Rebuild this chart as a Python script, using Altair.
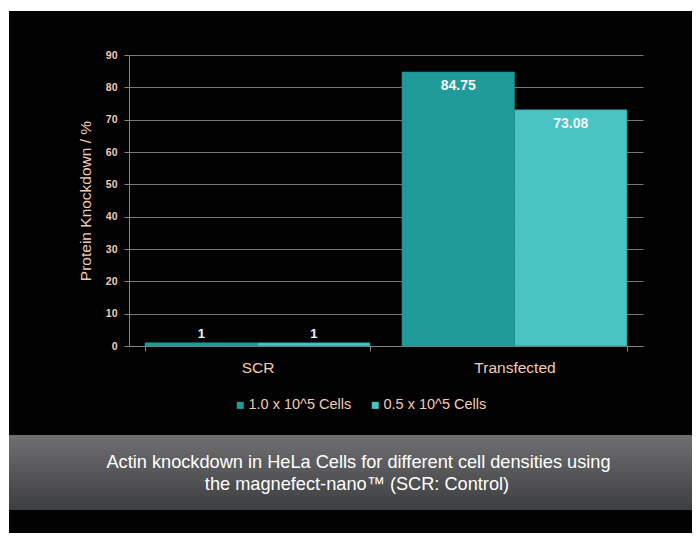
import altair as alt
import pandas as pd

categories = ["SCR", "Transfected"]
series = ["1.0 x 10^5 Cells", "0.5 x 10^5 Cells"]
values_dense = [1, 84.75]
values_sparse = [1, 73.08]
y_ticks = [0, 10, 20, 30, 40, 50, 60, 70, 80, 90]
caption_lines = [
    "Actin knockdown in HeLa Cells for different cell densities using",
    "the magnefect-nano\u2122 (SCR: Control)",
]

colors = ["#1f9c99", "#4ac3c3"]
peach = "#f2cbb6"
grid = "#8a8480"

rows = []
for i, c in enumerate(categories):
    rows.append({"category": c, "series": series[0], "value": values_dense[i]})
    rows.append({"category": c, "series": series[1], "value": values_sparse[i]})
df = pd.DataFrame(rows)

W, H = 514, 291
PL, PT, PR, PB = 121, 47, 49, 187
one = pd.DataFrame({"k": [0]})

white_top = alt.Chart(one).mark_rect(color="#ffffff").encode(
    x=alt.value(-PL), x2=alt.value(W + PR), y=alt.value(-PT), y2=alt.value(-44)
)
white_left = alt.Chart(one).mark_rect(color="#ffffff").encode(
    x=alt.value(-PL), x2=alt.value(-120), y=alt.value(-PT), y2=alt.value(H + PB)
)

cap_box = alt.Chart(one).mark_rect(
    color=alt.LinearGradient(
        gradient="linear",
        stops=[alt.GradientStop(color="#707072", offset=0),
               alt.GradientStop(color="#3d3e40", offset=1)],
        x1=0, x2=0, y1=0, y2=1,
    )
).encode(x=alt.value(-120), x2=alt.value(W + PR), y=alt.value(380), y2=alt.value(455))

cap1 = alt.Chart(pd.DataFrame({"t": [caption_lines[0]]})).mark_text(
    font="Liberation Sans", fontSize=18.2, color="#ffffff", align="center", baseline="middle"
).encode(x=alt.value(229.5), y=alt.value(408), text="t:N")
cap2 = alt.Chart(pd.DataFrame({"t": [caption_lines[1]]})).mark_text(
    font="Liberation Sans", fontSize=18.2, color="#ffffff", align="center", baseline="middle"
).encode(x=alt.value(228), y=alt.value(430), text="t:N")

xenc = alt.X("category:N", sort=categories, title=None,
             scale=alt.Scale(paddingInner=0.1245, paddingOuter=0.0623),
             axis=alt.Axis(labelAngle=0, labelColor=peach, labelFontSize=15.5, labelFont="Liberation Sans",
                           labelPadding=9, tickBand="extent", tickColor=grid, tickSize=5,
                           domainColor=grid, grid=False))
xoff = alt.XOffset("series:N", sort=series, scale=alt.Scale(paddingInner=0, paddingOuter=0))
yenc = alt.Y("value:Q", title="Protein Knockdown / %",
             scale=alt.Scale(domain=[0, 90], nice=False),
             axis=alt.Axis(values=y_ticks, labelColor=peach, labelFontSize=10.5, labelFontWeight="bold",
                           labelFont="Liberation Sans", tickColor=grid, tickSize=5, labelPadding=7,
                           domainColor=grid, gridColor=grid, gridOpacity=0.9,
                           titleColor=peach, titleFontSize=15.5, titleFontWeight="normal",
                           titleFont="Liberation Sans", titlePadding=12))

base = alt.Chart(df)
bars = base.mark_bar(stroke="#1a8a87", strokeWidth=0.6).encode(
    x=xenc, xOffset=xoff, y=yenc,
    color=alt.Color("series:N", sort=series, scale=alt.Scale(domain=series, range=colors),
                    legend=alt.Legend(title=None, orient="none", legendX=104, legendY=343,
                                      direction="horizontal", symbolType="square", symbolSize=49,
                                      symbolStrokeWidth=0, labelColor=peach, labelFontSize=14.5,
                                      labelFont="Liberation Sans", labelOffset=1, columnPadding=16)),
)
lab_in = base.transform_filter("datum.value > 10").mark_text(
    color="#f4f4f4", fontWeight="bold", fontSize=14, font="Liberation Sans", baseline="middle", dy=14
).encode(x=xenc, xOffset=xoff, y=yenc, text=alt.Text("value:Q", format=".2f"))
lab_out = base.transform_filter("datum.value <= 10").mark_text(
    color="#f4f4f4", fontWeight="bold", fontSize=13, font="Liberation Sans", baseline="middle", dy=-9
).encode(x=xenc, xOffset=xoff, y=yenc, text=alt.Text("value:Q", format="d"))

chart = alt.layer(white_top, white_left, cap_box, cap1, cap2, bars, lab_in, lab_out).properties(
    width=W, height=H,
    padding={"left": PL, "top": PT, "right": PR, "bottom": PB},
    autosize=alt.AutoSizeParams(type="none"),
    background="#020202",
).configure_view(stroke=None)

chart.save("out.html", embed_options={"renderer": "svg", "actions": False})
